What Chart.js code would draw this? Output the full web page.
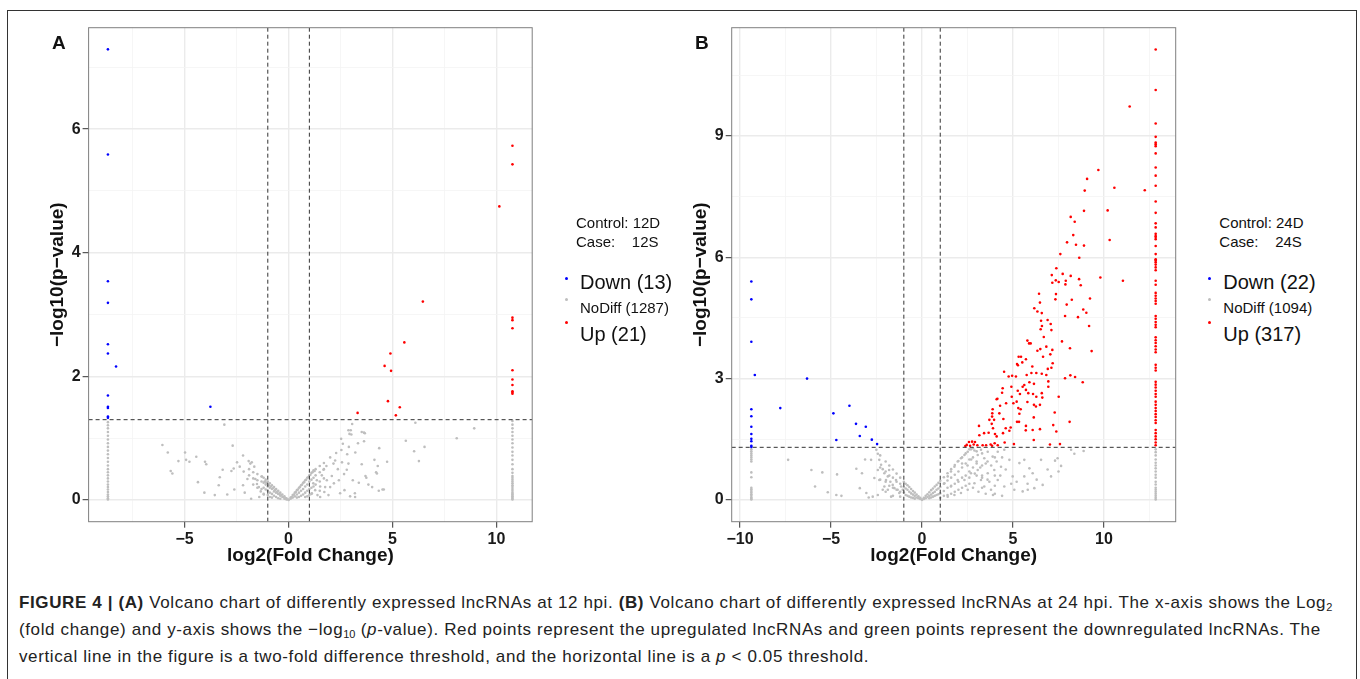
<!DOCTYPE html>
<html>
<head>
<meta charset="utf-8">
<title>Volcano charts - lncRNAs 12 hpi / 24 hpi</title>
<script src="https://cdn.jsdelivr.net/npm/chart.js"></script>
<style>
body {
  margin: 0;
  width: 1360px;
  height: 679px;
  overflow: hidden;
  background: #fff;
  position: relative;
  font-family: "Liberation Sans", Arial, sans-serif;
  color: #222;
}
.frame {
  position: absolute;
  left: 7px;
  top: 10px;
  width: 1348px;
  height: 700px;
  border: 1px solid #333;
  border-bottom: none;
}
canvas { position: absolute; top: 0; }
#chartA { left: 0; }
#chartB { left: 640px; }
.lbl { position: absolute; line-height: 1; white-space: pre; color: #111; }
.panel { font-size: 19px; font-weight: bold; }
.small { font-size: 15px; }
.big { font-size: 20px; }
.key { position: absolute; width: 3px; height: 3px; border-radius: 50%; }
.caption {
  position: absolute;
  left: 19px;
  top: 589px;
  font-size: 17px;
  letter-spacing: 0.62px;
  line-height: 27px;
  white-space: nowrap;
  color: #222;
}
.caption sub { font-size: 11px; line-height: 0; vertical-align: -3px; letter-spacing: 0; }
</style>
</head>
<body>
<div class="frame"></div>
<canvas id="chartA" width="560" height="580"></canvas>
<canvas id="chartB" width="560" height="580"></canvas>

<div class="lbl panel" style="left:52px; top:32.5px">A</div>
<div class="lbl panel" style="left:695px; top:32.5px">B</div>

<div class="lbl small" style="left:576px; top:215.4px">Control: 12D</div>
<div class="lbl small" style="left:576px; top:233.6px">Case:    12S</div>
<div class="key" style="left:564.5px; top:276.5px; background:#0000ff"></div>
<div class="key" style="left:564.5px; top:298px; background:#bebebe"></div>
<div class="key" style="left:564.5px; top:320.5px; background:#ff0000"></div>
<div class="lbl big" style="left:580px; top:271.9px">Down (13)</div>
<div class="lbl small" style="left:580px; top:300.3px">NoDiff (1287)</div>
<div class="lbl big" style="left:580px; top:324.2px">Up (21)</div>

<div class="lbl small" style="left:1219.3px; top:215.4px">Control: 24D</div>
<div class="lbl small" style="left:1219.3px; top:233.6px">Case:    24S</div>
<div class="key" style="left:1207.8px; top:276.5px; background:#0000ff"></div>
<div class="key" style="left:1207.8px; top:298px; background:#bebebe"></div>
<div class="key" style="left:1207.8px; top:320.5px; background:#ff0000"></div>
<div class="lbl big" style="left:1223.3px; top:271.9px">Down (22)</div>
<div class="lbl small" style="left:1223.3px; top:300.3px">NoDiff (1094)</div>
<div class="lbl big" style="left:1223.3px; top:324.2px">Up (317)</div>

<div class="caption">
<b>FIGURE 4 | (A)</b> Volcano chart of differently expressed lncRNAs at 12 hpi. <b>(B)</b> Volcano chart of differently expressed lncRNAs at 24 hpi. The x-axis shows the Log<sub>2</sub><br>
(fold change) and y-axis shows the −log<sub>10</sub> (<i>p</i>-value). Red points represent the upregulated lncRNAs and green points represent the downregulated lncRNAs. The<br>
vertical line in the figure is a two-fold difference threshold, and the horizontal line is a <i>p</i> &lt; 0.05 threshold.
</div>

<script>
// thresholds used by both panels
const foldCut = [-1, 1];
const pCut = 1.3;

// ---- panel A (12 hpi) ----
const xRangeA = [-9.62, 11.72];
const yRangeA = [-0.35, 7.64];
const xMajorA = [-5, 0, 5, 10];
const xLabelsA = ['−5', '0', '5', '10'];
const xMinorA = [-7.5, -2.5, 2.5, 7.5];
const yMajorA = [0, 2, 4, 6];
const yLabelsA = ['0', '2', '4', '6'];
const yMinorA = [1, 3, 5, 7];

const downA = [[-8.69,7.29],[-8.69,5.59],[-8.69,3.54],[-8.69,3.19],[-8.69,2.52],[-8.69,2.37],[-8.3,2.16],
  [-8.69,1.69],[-8.69,1.51],[-8.69,1.49],[-8.69,1.35],[-8.69,1.33],[-3.76,1.51]];
const upA = [[10.77,5.73],[10.77,5.43],[10.14,4.75],[6.46,3.21],[10.77,2.95],[10.77,2.91],[10.77,2.78],
  [5.57,2.55],[4.9,2.37],[4.62,2.17],[4.93,2.09],[10.77,2.1],[10.77,1.95],[10.77,1.86],[10.77,1.76],
  [10.77,1.74],[4.78,1.6],[5.35,1.5],[5.16,1.37],[3.32,1.41],[10.77,1.72]];

// gray columns at the clipped fold changes
const colXA = [-8.69, 10.77];
const colLeftYA = [1.26,1.21,1.16,1.1,1.04,0.98,0.92,0.86,0.8,0.74,0.68,0.62,0.56,0.5,0.45,0.4,0.35,0.3,0.25,0.21,0.17,0.13,0.09,0.06,0.03,0.01];
const colRightYA = [1.28,1.22,1.16,1.1,1.04,0.98,0.92,0.85,0.78,0.72,0.65,0.58,0.5,0.44,0.39,0.36,0.33,0.3,0.27,0.24,0.21,0.18,0.15,0.12,0.1,0.08,0.06,0.04,0.02,0.01];

const noDiffA = [
  [-3.09,1.22],[-6.07,0.89],[-2.69,0.88],[-5.81,0.77],[-4.98,0.77],[-4.44,0.70],[-4.93,0.65],[-4.77,0.62],
  [-5.30,0.63],[-4.02,0.62],[-3.96,0.58],[-5.67,0.47],[-5.59,0.43],[-4.36,0.29],[-4.05,0.12],[-3.55,0.08],
  [-2.95,0.09],[-3.36,0.24],[-3.31,0.37],[-3.17,0.49],[-2.75,0.47],[-2.64,0.51],[-2.48,0.61],[-2.35,0.54],
  [-2.19,0.72],[-1.92,0.63],[-1.84,0.59],[-1.77,0.61],[-2.16,0.46],[-1.65,0.54],[-1.98,0.34],[-2.19,0.24],
  [-2.61,0.17],[-2.11,0.12],[-1.80,0.02],[-1.60,0.34],[-1.52,0.26],[-1.43,0.21],[-1.34,0.14],[-1.19,0.09],
  [-1.15,0.30],[-1.28,0.38],[-1.07,0.28],[-1.41,0.05],
  [3.06,1.23],[6.10,1.25],[8.93,1.16],[8.09,1.00],[2.88,1.13],[2.99,1.13],[2.93,1.07],[3.02,1.06],
  [3.52,1.10],[3.67,1.08],[2.53,0.99],[3.63,0.95],[3.34,0.92],[5.64,0.96],[6.54,0.86],[6.04,0.79],
  [6.27,0.63],[4.36,0.84],[2.61,0.91],[2.90,0.86],[3.21,0.77],[2.54,0.81],[2.82,0.74],[2.57,0.61],
  [2.88,0.59],[3.52,0.58],[4.13,0.65],[4.74,0.62],[4.29,0.55],[4.21,0.45],[3.70,0.39],[3.74,0.36],
  [3.09,0.32],[3.38,0.28],[3.84,0.25],[4.02,0.21],[4.34,0.15],[4.58,0.17],[3.19,0.11],[3.20,0.05],
  [2.96,0.06],[2.69,0.16],[2.48,0.11],[2.80,0.49],[2.67,0.42],[2.37,0.50],[2.24,0.64],[2.00,0.69],
  [2.29,0.76],[2.16,0.59],[2.42,0.32],[2.18,0.27],[2.00,0.21],[1.72,0.13],[1.92,0.08],[1.52,0.05],
  [1.82,0.55],[1.68,0.49],[2.08,0.39],[1.60,0.40],[1.36,0.32],[1.19,0.27],[1.84,0.32],[1.52,0.22],
  [1.28,0.16],[1.76,0.21],[1.12,0.11],[1.39,0.08],[3.63,1.09],[4.25,0.43],[4.52,0.17],
  [-1.9,0.5],[-1.9,0.4],[-1.7,0.45],[-1.7,0.35],[-1.7,0.25],[-1.5,0.42],[-1.5,0.32],[-1.5,0.2],
  [-1.3,0.38],[-1.3,0.3],[-1.3,0.18],[-1.2,0.36],[-1.2,0.28],[-1.2,0.2],[-1.2,0.1],[-1.1,0.33],
  [-1.1,0.25],[-1.1,0.17],[-1.0,0.3],[-1.0,0.22],[-1.0,0.15],[-1.0,0.08],[-0.9,0.27],[-0.9,0.2],
  [-0.9,0.12],[-0.9,0.05],[-0.8,0.24],[-0.8,0.18],[-0.8,0.1],[-0.8,0.04],[-0.7,0.21],[-0.7,0.14],
  [-0.7,0.07],[-0.6,0.18],[-0.6,0.12],[-0.6,0.05],[-0.5,0.15],[-0.5,0.1],[-0.5,0.03],[-0.4,0.12],
  [-0.4,0.07],[-0.4,0.02],[-0.3,0.09],[-0.3,0.05],[-0.2,0.06],[-0.2,0.02],[-0.1,0.03],[-0.1,0.01],
  [0,0],[0,0.01],[0.1,0.04],[0.1,0.02],[0.2,0.08],[0.2,0.04],[0.3,0.12],[0.3,0.06],[0.4,0.16],
  [0.4,0.09],[0.4,0.04],[0.5,0.2],[0.5,0.12],[0.5,0.05],[0.6,0.24],[0.6,0.15],[0.6,0.07],[0.7,0.28],
  [0.7,0.18],[0.7,0.09],[0.8,0.32],[0.8,0.22],[0.8,0.12],[0.8,0.05],[0.9,0.36],[0.9,0.25],[0.9,0.15],
  [0.9,0.06],[1.0,0.4],[1.0,0.3],[1.0,0.18],[1.0,0.08],[1.1,0.44],[1.1,0.33],[1.1,0.2],[1.1,0.1],
  [1.2,0.48],[1.2,0.36],[1.2,0.22],[1.3,0.5],[1.3,0.4],[1.3,0.25],[1.5,0.55],[1.5,0.45],[1.5,0.3],
  [1.5,0.15],[1.7,0.6],[1.7,0.5],[1.7,0.35],
  [-0.95,0.24],[-0.85,0.22],[-0.75,0.19],[-0.65,0.16],[-0.55,0.13],[-0.45,0.1],[-0.35,0.08],[-0.25,0.05],
  [-0.15,0.03],[0.15,0.05],[0.25,0.09],[0.35,0.13],[0.45,0.17],[0.55,0.21],[0.65,0.25],[0.75,0.29],
  [0.85,0.33],[0.95,0.37],[1.05,0.41],[1.15,0.45],[1.25,0.47]
];

// ---- panel B (24 hpi) ----
const xRangeB = [-10.46, 13.94];
const yRangeB = [-0.54, 11.68];
const xMajorB = [-10, -5, 0, 5, 10];
const xLabelsB = ['−10', '−5', '0', '5', '10'];
const xMinorB = [-7.5, -2.5, 2.5, 7.5, 12.5];
const yMajorB = [0, 3, 6, 9];
const yLabelsB = ['0', '3', '6', '9'];
const yMinorB = [1.5, 4.5, 7.5, 10.5];

const downB = [[-9.38,5.4],[-9.38,4.96],[-9.38,3.91],[-9.19,3.09],[-6.32,3.0],[-9.38,2.24],[-7.79,2.27],
  [-3.99,2.33],[-4.87,2.14],[-9.38,2.07],[-3.63,1.88],[-9.38,1.81],[-3.09,1.81],[-9.38,1.63],[-3.42,1.58],
  [-9.38,1.51],[-4.71,1.48],[-2.76,1.49],[-9.38,1.45],[-2.47,1.38],[-9.38,1.34],[-9.38,1.31]];

const colXB = [-9.38, 12.84];
const upColYB = [11.14,10.14,9.31,8.98,8.84,8.8,8.75,8.57,8.22,8.02,7.77,7.38,7.1,6.84,6.74,6.58,6.53,6.5,
  6.45,6.28,6.08,5.95,5.93,5.88,5.82,5.75,5.68,5.42,5.32,5.12,5.05,4.98,4.92,4.85,4.55,4.48,4.4,4.33,
  4.27,4.02,3.95,3.88,3.8,3.72,3.65,3.34,3.27,3.2,2.92,2.85,2.78,2.7,2.62,2.55,2.43,2.35,2.27,2.2,2.12,
  2.05,1.97,1.9,1.73,1.65,1.57,1.5,1.42,1.35];
const upB = [
  [11.41,9.73],[9.69,8.16],[9.07,7.94],[10.57,7.72],[8.94,7.65],[12.24,7.66],[8.90,7.15],[10.20,7.16],
  [8.17,7.0],[8.39,6.88],[8.31,6.55],[10.31,6.43],[7.97,6.37],[8.46,6.31],[8.90,6.29],[7.60,6.08],[8.64,5.99],
  [7.38,5.73],[7.13,5.56],[7.73,5.59],[8.17,5.54],[8.63,5.46],[9.80,5.50],[11.04,5.42],[7.35,5.43],
  [7.51,5.39],[7.16,5.37],[7.90,5.42],[7.88,5.33],[8.72,5.31],[6.43,5.10],[7.36,5.09],[7.33,4.96],
  [8.23,4.95],[9.23,4.98],[6.48,4.88],[7.95,4.83],[6.17,4.74],[6.34,4.66],[6.58,4.62],[8.86,4.71],
  [9.03,4.63],[7.86,4.55],[8.57,4.52],[6.54,4.43],[6.90,4.45],[7.07,4.35],[6.59,4.30],[9.18,4.30],
  [6.52,4.22],[7.11,4.20],[6.69,4.03],[7.69,3.92],[5.79,3.94],[5.88,3.87],[5.97,3.87],[6.83,3.79],
  [8.13,3.75],[9.32,3.68],[6.34,3.69],[6.50,3.73],[7.16,3.71],[7.05,3.60],[6.65,3.54],[5.31,3.54],
  [5.44,3.54],[5.71,3.48],[5.22,3.36],[5.27,3.33],[5.51,3.40],[6.06,3.30],[7.18,3.38],[7.11,3.27],
  [6.91,3.24],[4.51,3.17],[4.76,3.05],[4.95,3.07],[5.16,3.05],[5.75,3.09],[6.01,3.14],[6.28,3.14],
  [6.58,3.12],[6.83,3.09],[7.86,3.01],[8.15,3.08],[8.41,3.04],[8.83,2.91],[4.91,2.80],[5.53,2.80],
  [5.62,2.84],[4.43,2.76],[4.40,2.65],[5.26,2.70],[5.38,2.62],[5.71,2.72],[5.90,2.91],[6.15,2.87],
  [5.84,2.64],[6.10,2.62],[6.94,2.93],[6.94,2.80],[6.58,2.64],[6.61,2.53],[6.28,2.55],[7.51,2.55],
  [4.93,2.55],[5.20,2.43],[5.02,2.39],[4.14,2.50],[4.10,2.49],[4.29,2.33],[4.62,2.39],[5.29,2.27],
  [5.42,2.24],[5.79,2.42],[6.15,2.35],[6.26,2.31],[6.48,2.35],[3.88,2.24],[3.86,2.14],[4.25,2.14],
  [5.35,2.13],[6.14,2.04],[7.29,2.16],[3.85,2.06],[3.70,1.98],[3.96,1.98],[4.47,2.0],[5.22,1.93],
  [5.33,1.93],[8.11,1.93],[3.13,1.83],[3.83,1.88],[3.90,1.77],[4.60,1.77],[4.87,1.79],[5.71,1.83],
  [7.21,1.85],[4.80,1.71],[5.70,1.72],[6.08,1.73],[6.48,1.75],[7.38,1.69],[3.41,1.65],[3.66,1.66],
  [4.01,1.63],[4.45,1.65],[3.15,1.60],[6.14,1.48],[4.10,1.57],[2.58,1.43],[2.75,1.44],[2.91,1.43],
  [2.84,1.37],[2.46,1.36],[2.64,1.34],[3.04,1.35],[3.33,1.35],[3.52,1.35],[3.77,1.37],[3.85,1.34],
  [3.99,1.40],[4.16,1.35],[4.54,1.42],[5.05,1.38],[7.03,1.37],[7.58,1.38],[2.38,1.33]
];

const colLeftYB = [1.25,1.2,1.15,1.1,1.05,1.0,0.95,0.68,0.56,0.3,0.26,0.22,0.18,0.14,0.1,0.06,0.03,0.01];
const colRightYB = [1.25,1.18,1.1,1.0,0.92,0.85,0.78,0.7,0.62,0.55,0.45,0.38,0.3,0.25,0.2,0.15,0.1,0.05,0.01];
const noDiffB = [
  [-7.36,0.99],[-6.08,0.74],[-5.48,0.68],[-5.88,0.33],[-5.18,0.19],[-4.71,0.12],[-4.43,0.10],[-4.67,0.63],
  [-3.61,0.77],[-3.13,1.0],[-3.30,0.66],[-3.42,0.29],[-3.06,0.17],[-2.93,0.06],[-2.62,0.54],[-2.80,0.99],
  [-2.51,1.24],[-2.43,1.14],[-2.35,0.99],[-2.25,0.87],[-2.16,0.76],[-2.07,0.66],[-2.43,0.74],[-2.35,0.49],
  [-1.98,0.49],[-1.88,0.58],[-1.74,0.45],[-1.61,0.37],[-1.52,0.29],[-1.34,0.25],[-1.25,0.17],[-1.88,0.25],
  [-1.70,0.08],[-2.16,0.25],[-2.43,0.12],[-2.71,0.08],[-2.07,0.33],[-1.81,0.74],[-1.43,0.49],[-1.15,0.33],
  [-1.06,0.25],
  [1.23,0.41],[1.41,0.58],[1.59,0.70],[1.78,0.82],[1.96,0.95],[2.14,1.03],[2.33,1.11],[2.51,1.19],
  [2.69,1.25],[2.88,1.22],[3.06,1.11],[3.24,1.24],[3.42,1.03],[3.61,1.19],[3.88,1.07],[4.16,1.19],
  [4.52,1.24],[4.80,0.99],[4.34,0.82],[3.97,0.74],[3.61,0.66],[3.24,0.49],[2.88,0.41],[2.51,0.25],
  [2.14,0.17],[1.78,0.12],[1.41,0.08],[2.33,0.49],[1.96,0.49],[1.59,0.33],[2.69,0.66],[3.06,0.74],
  [3.42,0.33],[3.79,0.25],[4.16,0.49],[4.52,0.33],[4.98,0.58],[5.07,0.25],[5.35,0.91],[5.62,0.99],
  [5.90,0.78],[6.08,0.66],[5.62,0.58],[5.53,0.21],[5.81,0.25],[6.17,0.29],[6.63,0.37],[6.54,0.99],
  [7.09,0.58],[7.31,0.97],[7.45,1.03],[7.64,0.84],[8.19,1.24],[8.37,1.14],[8.88,1.21],
  [2.2,0.9],[2.5,0.85],[2.7,1.0],[3.0,0.95],[3.2,0.8],[3.5,0.9],[3.8,0.85],[4.1,0.95],[4.4,1.05],
  [2.6,0.55],[2.9,0.65],[3.3,0.6],[3.7,0.45],[4.0,0.35],[4.3,0.6],[4.6,0.75],[4.9,0.4],[2.4,0.35],
  [2.8,0.3],[3.1,0.2],[3.5,0.15],[3.9,0.12],[4.4,0.1],[5.2,0.45],[5.8,0.4],[6.3,0.5],[6.9,0.75],[7.5,0.7],
  [-2.3,1.1],[-2.3,0.8],[-2.3,0.5],[-2.0,0.95],[-2.0,0.7],[-2.0,0.45],[-2.0,0.2],[-1.8,0.85],[-1.8,0.6],
  [-1.8,0.35],[-1.6,0.75],[-1.6,0.55],[-1.6,0.3],[-1.6,0.1],[-1.4,0.65],[-1.4,0.45],[-1.4,0.25],
  [-1.2,0.55],[-1.2,0.4],[-1.2,0.2],[-1.2,0.08],[-1.0,0.45],[-1.0,0.32],[-1.0,0.18],[-0.9,0.4],
  [-0.9,0.28],[-0.9,0.12],[-0.8,0.36],[-0.8,0.25],[-0.8,0.1],[-0.7,0.32],[-0.7,0.2],[-0.7,0.08],
  [-0.6,0.27],[-0.6,0.16],[-0.6,0.06],[-0.5,0.22],[-0.5,0.13],[-0.5,0.05],[-0.4,0.18],[-0.4,0.1],
  [-0.4,0.03],[-0.3,0.13],[-0.3,0.06],[-0.2,0.09],[-0.2,0.04],[-0.1,0.05],[-0.1,0.02],[0,0],[0,0.01],
  [0.1,0.05],[0.1,0.02],[0.2,0.1],[0.2,0.04],[0.3,0.14],[0.3,0.07],[0.4,0.19],[0.4,0.1],[0.4,0.04],
  [0.5,0.24],[0.5,0.13],[0.5,0.06],[0.6,0.28],[0.6,0.17],[0.6,0.08],[0.7,0.33],[0.7,0.2],[0.7,0.1],
  [0.8,0.37],[0.8,0.25],[0.8,0.12],[0.9,0.42],[0.9,0.28],[0.9,0.14],[1.0,0.47],[1.0,0.32],[1.0,0.16],
  [1.0,0.05],[1.2,0.56],[1.2,0.4],[1.2,0.22],[1.2,0.1],[1.4,0.66],[1.4,0.48],[1.4,0.3],[1.4,0.12],
  [1.6,0.76],[1.6,0.55],[1.6,0.35],[1.6,0.15],[1.8,0.86],[1.8,0.62],[1.8,0.4],[1.8,0.2],[2.0,0.96],
  [2.0,0.7],[2.0,0.45],[2.0,0.25],[2.2,1.05],[2.2,0.8],[2.2,0.55],[2.2,0.3],[2.4,1.15],[2.4,0.9],
  [2.4,0.6],[2.6,1.25],[2.6,1.0],[2.6,0.7],[2.6,0.4],[2.8,1.28],[2.8,1.05],[2.8,0.8],[3.0,1.2],
  [3.0,0.9],[3.0,0.6],[3.3,1.15],[3.3,0.85],[3.3,0.55],[3.3,0.3],[3.6,0.95],[3.6,0.5],[4.0,1.05],
  [4.0,0.6],[4.0,0.15]
];

Chart.defaults.font.family = '"Liberation Sans", Arial, sans-serif';

const panelBorder = {
  id: 'panelBorder',
  afterDraw(chart) {
    const { ctx, chartArea: a } = chart;
    ctx.save();
    ctx.strokeStyle = '#7f7f7f';
    ctx.lineWidth = 1;
    ctx.strokeRect(a.left, a.top, a.right - a.left, a.bottom - a.top);
    ctx.restore();
  }
};

function toPoints(pairs) {
  return pairs.map(p => ({ x: p[0], y: p[1] }));
}

function column(x, ys) {
  return ys.map(y => ({ x: x, y: y }));
}

function axis(range, major, minor, labels, title, fit) {
  const isMajor = c => c.tick && major.includes(c.tick.value);
  return {
    type: 'linear',
    min: range[0],
    max: range[1],
    afterBuildTicks: s => {
      s.ticks = major.concat(minor).sort((a, b) => a - b).map(v => ({ value: v }));
    },
    afterFit: fit,
    ticks: {
      autoSkip: false,
      maxRotation: 0,
      padding: 2,
      color: '#1a1a1a',
      font: { size: 16, weight: 'bold' },
      callback: v => {
        const i = major.indexOf(v);
        return i < 0 ? '' : labels[i];
      }
    },
    grid: {
      color: c => isMajor(c) ? '#ebebeb' : '#f4f4f4',
      lineWidth: c => isMajor(c) ? 1.4 : 0.8,
      tickColor: c => isMajor(c) ? '#333' : 'rgba(0,0,0,0)',
      tickLength: 6,
      tickWidth: 1
    },
    border: { display: false },
    title: {
      display: true,
      text: title,
      color: '#111',
      font: { size: 19, weight: 'bold' },
      padding: 0
    }
  };
}

function dashed(points) {
  return {
    data: points,
    showLine: true,
    borderColor: '#333',
    borderWidth: 1,
    borderDash: [4, 3],
    pointRadius: 0,
    fill: false
  };
}

function dots(points, color) {
  return {
    data: points,
    backgroundColor: color,
    borderWidth: 0,
    pointRadius: 1.3,
    pointHoverRadius: 0
  };
}

function makePanel(id, p) {
  const ctx = document.getElementById(id).getContext('2d');
  return new Chart(ctx, {
    type: 'scatter',
    data: {
      // first dataset is drawn last, so dashed lines sit on top
      datasets: [
        dashed([{ x: foldCut[0], y: p.yRange[0] }, { x: foldCut[0], y: p.yRange[1] }]),
        dashed([{ x: foldCut[1], y: p.yRange[0] }, { x: foldCut[1], y: p.yRange[1] }]),
        dashed([{ x: p.xRange[0], y: pCut }, { x: p.xRange[1], y: pCut }]),
        dots(p.up, '#ff0000'),
        dots(p.down, '#0000ff'),
        dots(p.noDiff, '#bebebe')
      ]
    },
    options: {
      responsive: false,
      animation: false,
      events: [],
      layout: { padding: p.padding },
      plugins: { legend: { display: false }, tooltip: { enabled: false } },
      scales: {
        x: axis(p.xRange, p.xMajor, p.xMinor, p.xLabels, 'log2(Fold Change)', s => { s.height = p.xHeight; }),
        y: axis(p.yRange, p.yMajor, p.yMinor, p.yLabels, '−log10(p−value)', s => { s.width = p.yWidth; })
      }
    },
    plugins: [panelBorder]
  });
}

window.onload = function() {
  makePanel('chartA', {
    xRange: xRangeA, yRange: yRangeA,
    xMajor: xMajorA, xMinor: xMinorA, xLabels: xLabelsA,
    yMajor: yMajorA, yMinor: yMinorA, yLabels: yLabelsA,
    down: toPoints(downA),
    up: toPoints(upA),
    noDiff: toPoints(noDiffA).concat(column(colXA[0], colLeftYA), column(colXA[1], colRightYA)),
    padding: { left: 46.6, right: 27.8, top: 27.7, bottom: 12.6 },
    yWidth: 42, xHeight: 45.7
  });
  makePanel('chartB', {
    xRange: xRangeB, yRange: yRangeB,
    xMajor: xMajorB, xMinor: xMinorB, xLabels: xLabelsB,
    yMajor: yMajorB, yMinor: yMinorB, yLabels: yLabelsB,
    down: toPoints(downB),
    up: toPoints(upB).concat(column(colXB[1], upColYB)),
    noDiff: toPoints(noDiffB).concat(column(colXB[0], colLeftYB), column(colXB[1], colRightYB)),
    padding: { left: 49.6, right: 24.3, top: 27.7, bottom: 12.6 },
    yWidth: 42.1, xHeight: 45.7
  });
};
</script>
</body>
</html>
